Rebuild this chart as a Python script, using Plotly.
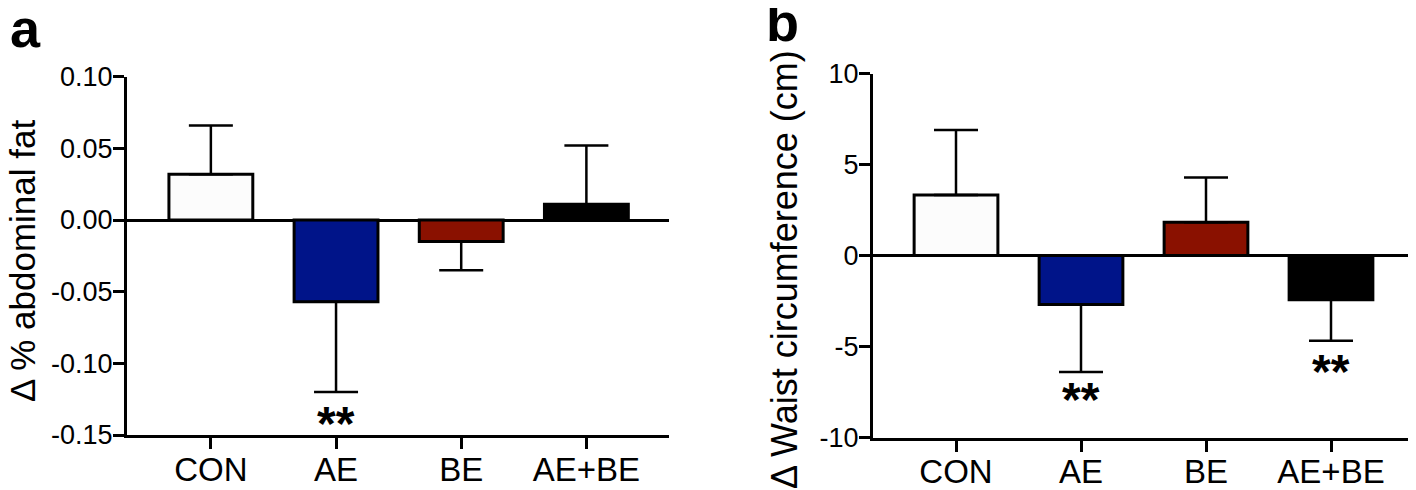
import plotly.graph_objects as go

# groups on the x axis
categories = ["CON", "AE", "BE", "AE+BE"]
bar_colors = ["#fcfcfc", "#001489", "#8a1100", "#000000"]

# panel a: change in % abdominal fat (mean, one-sided SD)
fat_mean = [0.032, -0.057, -0.015, 0.011]
fat_err = [0.034, 0.063, 0.020, 0.041]
fat_stars = ["", "**", "", ""]
fat_star_y = [None, -0.1375, None, None]
fat_ticks = [0.10, 0.05, 0.00, -0.05, -0.10, -0.15]
fat_ticktext = ["0.10", "0.05", "0.00", "-0.05", "-0.10", "-0.15"]

# panel b: change in waist circumference (cm)
waist_mean = [3.33, -2.69, 1.83, -2.42]
waist_err = [3.57, 3.70, 2.46, 2.25]
waist_stars = ["", "**", "", "**"]
waist_star_y = [None, -7.55, None, -6.05]
waist_ticks = [10, 5, 0, -5, -10]
waist_ticktext = ["10", "5", "0", "-5", "-10"]

font_family = "Arial, Liberation Sans, sans-serif"
linewidth = 3
# the page body has an 8px margin, so the figure is shrunk and everything
# is placed in page pixels minus that offset
OFF = 8
W, H = 1416 - OFF, 490 - OFF


def one_sided(means, errs):
    up = [e if m >= 0 else 0 for m, e in zip(means, errs)]
    down = [e if m < 0 else 0 for m, e in zip(means, errs)]
    return up, down


def add_panel(fig, xaxis, yaxis, means, errs):
    up, down = one_sided(means, errs)
    fig.add_trace(go.Bar(x=categories,
                         y=means,
                         xaxis=xaxis,
                         yaxis=yaxis,
                         width=0.67,
                         marker_color=bar_colors,
                         marker_line_color="black",
                         marker_line_width=linewidth,
                         error_y=dict(type="data",
                                      symmetric=False,
                                      array=up,
                                      arrayminus=down,
                                      color="black",
                                      thickness=2.5,
                                      width=22),
                         showlegend=False))


def px_x(px):
    return (px - OFF) / W


def px_y(px):
    return 1 - (px - OFF) / H


fig = go.Figure()
add_panel(fig, "x", "y", fat_mean, fat_err)
add_panel(fig, "x2", "y2", waist_mean, waist_err)

xaxis_style = dict(
    type="category",
    automargin=False,
    showline=True,
    linecolor="black",
    linewidth=linewidth,
    ticks="outside",
    ticklen=11,
    tickwidth=linewidth,
    tickcolor="black",
    showgrid=False,
    zeroline=False,
    tickfont=dict(size=33, color="black"),
    ticklabelstandoff=-8,
)
yaxis_style = dict(
    automargin=False,
    showline=True,
    linecolor="black",
    linewidth=linewidth,
    ticks="outside",
    ticklen=11,
    tickwidth=linewidth,
    tickcolor="black",
    showgrid=False,
    zeroline=True,
    zerolinecolor="black",
    zerolinewidth=linewidth,
    tickfont=dict(size=27, color="black"),
    ticklabelstandoff=-5,
)

fig.update_layout(
    template="none",
    xaxis=dict(xaxis_style, domain=[px_x(127), px_x(669)], range=[-0.67, 3.66], anchor="y"),
    yaxis=dict(yaxis_style, domain=[px_y(435), px_y(76.7)], range=[-0.15, 0.10],
               tickvals=fat_ticks, ticktext=fat_ticktext, anchor="x"),
    xaxis2=dict(xaxis_style, domain=[px_x(873), px_x(1416)], range=[-0.664, 3.68], anchor="y2"),
    yaxis2=dict(yaxis_style, domain=[px_y(437.7), px_y(73.5)], range=[-10, 10],
                tickvals=waist_ticks, ticktext=waist_ticktext, anchor="x2"),
)

annotations = []
for xref, yref, stars, ys in [("x", "y", fat_stars, fat_star_y), ("x2", "y2", waist_stars, waist_star_y)]:
    for cat, s, yv in zip(categories, stars, ys):
        if s:
            annotations.append(dict(x=cat, y=yv, xref=xref, yref=yref, text="<b>" + s + "</b>",
                                    showarrow=False, font=dict(size=48, color="black"),
                                    yanchor="middle", yshift=-6))

# axis titles
annotations.append(dict(x=px_x(22), y=px_y(261), xref="paper", yref="paper", text="Δ % abdominal fat",
                        textangle=-90, showarrow=False, xanchor="center", yanchor="middle",
                        font=dict(size=35, color="black")))
annotations.append(dict(x=px_x(784), y=px_y(270), xref="paper", yref="paper", text="Δ Waist circumference (cm)",
                        textangle=-90, showarrow=False, xanchor="center", yanchor="middle",
                        font=dict(size=36, color="black")))

# panel letters
annotations.append(dict(x=px_x(OFF), y=px_y(60), xref="paper", yref="paper", text="<b>a</b>",
                        showarrow=False, xanchor="left", yanchor="bottom", font=dict(size=54, color="black")))
annotations.append(dict(x=px_x(764), y=px_y(54), xref="paper", yref="paper", text="<b>b</b>",
                        showarrow=False, xanchor="left", yanchor="bottom", font=dict(size=54, color="black")))

fig.update_layout(
    annotations=annotations,
    width=W,
    height=H,
    margin=dict(l=0, r=0, t=0, b=0),
    plot_bgcolor="white",
    paper_bgcolor="white",
    font=dict(family=font_family, color="black"),
    bargap=0.3,
)

fig.write_html("out.html")
